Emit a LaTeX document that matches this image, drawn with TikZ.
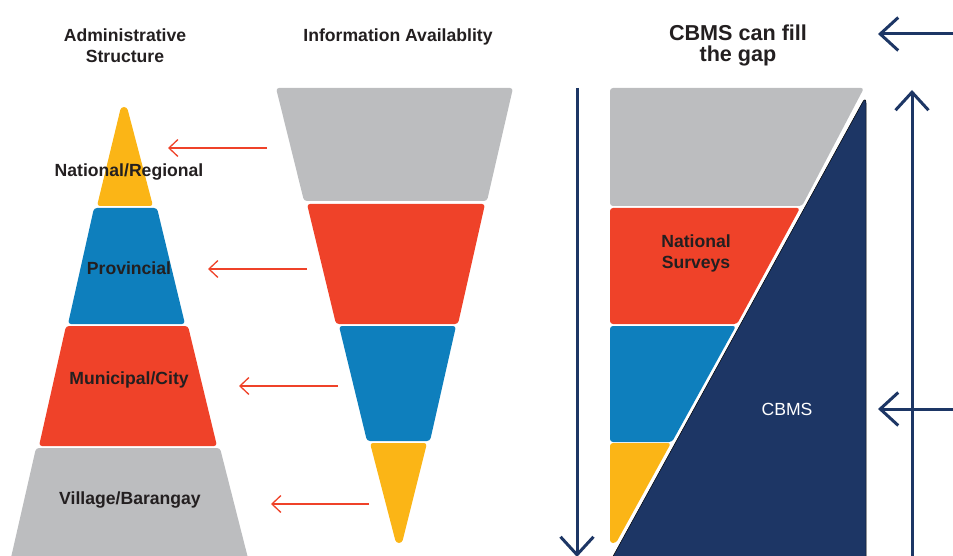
\documentclass[tikz,border=0pt]{standalone}
\usepackage{fontspec}
\setmainfont{Liberation Sans}
\usepackage{xcolor}
\usepackage{tikz}
\usetikzlibrary{arrows.meta}

\definecolor{cyellow}{HTML}{FBB516}
\definecolor{cblue}{HTML}{0E7FBD}
\definecolor{cred}{HTML}{EF4229}
\definecolor{cgray}{HTML}{BCBDBF}
\definecolor{cnavy}{HTML}{1D3665}
\definecolor{ctext}{HTML}{231F20}

\tikzset{
  layer/.style={rounded corners=3pt},
  lbl/.style={text=ctext, inner sep=0pt, align=center,
    font=\fontsize{17.6}{21}\selectfont\bfseries},
  ttl/.style={text=ctext, inner sep=0pt, align=center,
    font=\fontsize{21.6}{21}\selectfont\bfseries},
  redarrow/.style={draw=cred, line width=1.3pt,
    -{Straight Barb[length=9pt,width=17pt]}},
  navyarrow/.style={draw=cnavy, line width=3pt,
    -{Straight Barb[length=18pt,width=33pt]}}
}

\begin{document}
\begin{tikzpicture}[x=1pt,y=-1pt]

\useasboundingbox (0,0) rectangle (953,556);
\clip (0,0) rectangle (953,556);

% administrative structure (pyramid)
\fill [cyellow, layer] (121,107) -- (127,107) -- (153,206) -- (97,206) -- cycle;
\fill [cblue, layer] (94,208) -- (157,208) -- (185,324) -- (68,324) -- cycle;
\fill [cred, layer] (66,326) -- (188,326) -- (217,446) -- (39,446) -- cycle;
\fill [cgray, layer] (36,448) -- (220,448) -- (249,562) -- (10,562) -- cycle;

% information availability (inverted pyramid)
\fill [cgray, layer] (276,88) -- (513,88) -- (487,201) -- (304,201) -- cycle;
\fill [cred, layer] (307,204) -- (485,204) -- (458,324) -- (336,324) -- cycle;
\fill [cblue, layer] (339,326) -- (456,326) -- (430,441) -- (367,441) -- cycle;
\fill [cyellow, layer] (370,443) -- (427,443) -- (402,543) -- (396,543) -- cycle;

% bars cut by the CBMS wedge
\fill [cgray, layer] (610,88) -- (864,88) -- (802,206) -- (610,206) -- cycle;
\fill [cred, layer] (610,208) -- (800,208) -- (737,324) -- (610,324) -- cycle;
\fill [cblue, layer] (610,326) -- (736,326) -- (672,442) -- (610,442) -- cycle;
\fill [cyellow, layer] (610,443) -- (671,443) -- (616,543) -- (610,543) -- cycle;

% CBMS wedge
\filldraw [fill=cnavy, draw=black, line width=0.5pt]
    (611,560) [rounded corners=7pt] -- (866,96) [sharp corners] -- (866,560) -- cycle;

% labels
\node [lbl] (admhead) at (125,45.5) {Administrative\\Structure};
\node [lbl, anchor=base] (infohead) at (398,42) {Information Availablity};
\node [ttl] (gaphead) at (738,45.5) {CBMS can fill\\the gap};

\node [lbl, anchor=base] (natlbl) at (129,177) {National/Regional};
\node [lbl, anchor=base] (provlbl) at (129,274) {Provincial};
\node [lbl, anchor=base] (munlbl) at (129,384) {Municipal/City};
\node [lbl, anchor=base] (vilbl) at (130,504) {Village/Barangay};

\node [lbl] (survlbl) at (696,253) {National\\Surveys};
\node [lbl, text=white, font=\fontsize{17.6}{21}\selectfont, anchor=base]
    (cbmslbl) at (787,415) {CBMS};

% red arrows
\coordinate (natFrom) at (267,148);
\coordinate (natTo) at (168,148);
\coordinate (provFrom) at (307,269);
\coordinate (provTo) at (208,269);
\coordinate (munFrom) at (338,386);
\coordinate (munTo) at (239,386);
\coordinate (vilFrom) at (369,504);
\coordinate (vilTo) at (271,504);

\draw [redarrow] (natFrom) -- (natTo);
\draw [redarrow] (provFrom) -- (provTo);
\draw [redarrow] (munFrom) -- (munTo);
\draw [redarrow] (vilFrom) -- (vilTo);

% navy arrows
\coordinate (downTop) at (577,88);
\coordinate (downEnd) at (577,557);
\coordinate (upBot) at (912,560);
\coordinate (upEnd) at (912,90);
\coordinate (gapFrom) at (956,34);
\coordinate (gapTo) at (878,34);
\coordinate (cbmsFrom) at (956,409);
\coordinate (cbmsTo) at (878,409);

\draw [navyarrow] (downTop) -- (downEnd);
\draw [navyarrow] (upBot) -- (upEnd);
\draw [navyarrow] (gapFrom) -- (gapTo);
\draw [navyarrow] (cbmsFrom) -- (cbmsTo);

\end{tikzpicture}
\end{document}
